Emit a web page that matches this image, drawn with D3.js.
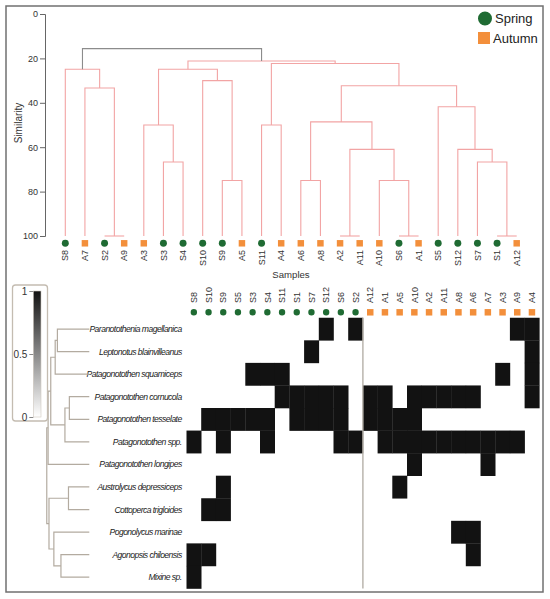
<!DOCTYPE html>
<html>
<head>
<meta charset="utf-8">
<script src="https://cdn.jsdelivr.net/npm/d3@7"></script>
<style>
body{margin:0;background:#fff;}
svg{display:block;font-family:"Liberation Sans",Arial,Helvetica,sans-serif;}
</style>
</head>
<body>
<svg id="chart" width="550" height="599"></svg>
<script>
// ---- data ----
// sample dendrogram (top): leaf order and merges [left, right, similarity]
var sampleOrder = ["S8","A7","S2","A9","A3","S3","S4","S10","S9","A5","S11","A4",
	"A6","A8","A2","A11","A10","S6","A1","S5","S12","S7","S1","A12"];
var sampleMerges = [
	["S2","A9",100],	// m0
	["A7","m0",33.3],	// m1
	["S8","m1",24.9],	// m2
	["S3","S4",66.7],	// m3
	["A3","m3",50],		// m4
	["S9","A5",75],		// m5
	["S10","m5",30],	// m6
	["m4","m6",24.9],	// m7
	["S11","A4",50],	// m8
	["A6","A8",75],		// m9
	["A2","A11",100],	// m10
	["S6","A1",100],	// m11
	["A10","m11",75],	// m12
	["m10","m12",61],	// m13
	["m9","m13",48.6],	// m14
	["S1","A12",100],	// m15
	["S7","m15",66.7],	// m16
	["S12","m16",61],	// m17
	["S5","m17",41.8],	// m18
	["m14","m18",32.3],	// m19
	["m8","m19",22.3],	// m20
	["m7","m20",21.2],	// m21
	["m2","m21",15.6]	// m22 (root)
];
var simTicks = [0,20,40,60,80,100];
var seasons = ["Spring","Autumn"];

// heatmap columns and species rows
var heatCols = ["S8","S10","S9","S5","S3","S4","S11","S1","S7","S12","S6","S2",
	"A12","A1","A5","A10","A2","A11","A8","A6","A7","A3","A9","A4"];
var species = ["Paranotothenia magellanica","Leptonotus blainvilleanus","Patagonotothen squamiceps",
	"Patagonotothen cornucola","Patagonotothen tesselate","Patagonotothen spp.","Patagonotothen longipes",
	"Austrolycus depressiceps","Cottoperca trigloides","Pogonolycus marinae","Agonopsis chiloensis","Mixine sp."];
var presence = [
	[0,0,0,0,0,0,0,0,0,1,0,1, 0,0,0,0,0,0,0,0,0,0,1,1],
	[0,0,0,0,0,0,0,0,1,0,0,0, 0,0,0,0,0,0,0,0,0,0,0,1],
	[0,0,0,0,1,1,1,0,0,0,0,0, 0,0,0,0,0,0,0,0,0,1,0,1],
	[0,0,0,0,0,0,1,1,1,1,1,0, 1,1,0,1,1,1,1,1,0,0,0,1],
	[0,1,1,1,1,1,0,1,1,1,1,0, 1,1,1,1,0,0,0,0,0,0,0,0],
	[1,0,1,0,0,1,0,0,0,0,1,1, 0,1,1,1,1,1,1,1,1,1,1,0],
	[0,0,0,0,0,0,0,0,0,0,0,0, 0,0,0,1,0,0,0,0,1,0,0,0],
	[0,0,1,0,0,0,0,0,0,0,0,0, 0,0,1,0,0,0,0,0,0,0,0,0],
	[0,1,1,0,0,0,0,0,0,0,0,0, 0,0,0,0,0,0,0,0,0,0,0,0],
	[0,0,0,0,0,0,0,0,0,0,0,0, 0,0,0,0,0,0,1,1,0,0,0,0],
	[1,1,0,0,0,0,0,0,0,0,0,0, 0,0,0,0,0,0,0,1,0,0,0,0],
	[1,0,0,0,0,0,0,0,0,0,0,0, 0,0,0,0,0,0,0,0,0,0,0,0]
];
// species dendrogram (left): merges [left, right, height]
var speciesMerges = [
	["Paranotothenia magellanica","Leptonotus blainvilleanus",0.72],	// m0
	["m0","Patagonotothen squamiceps",0.77],	// m1
	["Patagonotothen cornucola","Patagonotothen tesselate",0.45],	// m2
	["m2","Patagonotothen spp.",0.55],	// m3
	["m1","m3",0.87],	// m4
	["m4","Patagonotothen longipes",0.93],	// m5
	["Austrolycus depressiceps","Cottoperca trigloides",0.47],	// m6
	["Agonopsis chiloensis","Mixine sp.",0.64],	// m7
	["Pogonolycus marinae","m7",0.80],	// m8
	["m6","m8",0.91],	// m9
	["m5","m9",0.96]	// m10 (root)
];
var legendTicks = [0,0.5,1];

// ---- setup ----
var svg = d3.select("#chart");
var green = "#1f6b33", orange = "#f38f3b";
var pink = "#f2a4a4", treeGray = "#b3aba0";

function seasonOf(s){ return s.charAt(0)=="S" ? "Spring" : "Autumn"; }
var markerShape = d3.scaleOrdinal().domain(seasons).range([d3.symbolCircle, d3.symbolSquare]);
var markerColor = d3.scaleOrdinal().domain(seasons).range([green, orange]);

// frame
svg.append("rect").attr("x",6).attr("y",6).attr("width",537).attr("height",586)
	.attr("fill","none").attr("stroke","#707070").attr("stroke-width",1.5);

// ---- top dendrogram ----
var x = d3.scalePoint().domain(sampleOrder).range([65.3,516.7]);
var y = d3.scaleLinear().domain([0,100]).range([14,236]);

// node positions
var nodes = {};
sampleOrder.forEach(function(s){ nodes[s] = {x:x(s), h:100}; });
sampleMerges.forEach(function(m,i){
	var a = nodes[m[0]], b = nodes[m[1]];
	nodes["m"+i] = {x:(a.x+b.x)/2, h:m[2], a:a, b:b, root:i==sampleMerges.length-1};
});

var topG = svg.append("g");
sampleMerges.forEach(function(m,i){
	var n = nodes["m"+i];
	var path = d3.path();
	path.moveTo(n.a.x, y(n.a.h)); path.lineTo(n.a.x, y(n.h));
	path.lineTo(n.b.x, y(n.h)); path.lineTo(n.b.x, y(n.b.h));
	topG.append("path").attr("d",path.toString()).attr("fill","none")
		.attr("stroke", n.root ? "#8c8c8c" : pink).attr("stroke-width",1.1);
});

// y axis
var yAxis = svg.append("g").attr("transform","translate(45,0)")
	.call(d3.axisLeft(y).tickValues(simTicks).tickSize(5).tickPadding(2));
yAxis.select(".domain").attr("stroke","#666");
yAxis.selectAll(".tick line").attr("stroke","#666");
yAxis.selectAll("text").attr("fill","#333").style("font-size","9px").style("font-family","Liberation Sans, Arial, sans-serif");

svg.append("text").attr("transform","translate(18,123) rotate(-90)")
	.attr("text-anchor","middle").attr("dy","0.35em")
	.style("font-size","10px").attr("fill","#333").text("Similarity");

// leaf markers and labels
topG.selectAll(".leafmark").data(sampleOrder).enter().append("path")
	.attr("class","leafmark")
	.attr("transform",function(d){ return "translate("+x(d)+",243.3)"; })
	.attr("d",function(d){ var t=markerShape(seasonOf(d)); return d3.symbol(t, t==d3.symbolCircle?38:42)(); })
	.attr("fill",function(d){ return markerColor(seasonOf(d)); });
topG.selectAll(".leaflab").data(sampleOrder).enter().append("text")
	.attr("class","leaflab")
	.attr("transform",function(d){ return "translate("+x(d)+",250) rotate(-90)"; })
	.attr("text-anchor","end").attr("dy","0.35em")
	.style("font-size","9px").attr("fill","#333").text(function(d){ return d; });

svg.append("text").attr("x",291).attr("y",275).attr("text-anchor","middle").attr("dy","0.35em")
	.style("font-size","9.6px").attr("fill","#333").text("Samples");

// season legend
var leg = svg.append("g");
leg.append("path").attr("transform","translate(485,18.5)").attr("d",d3.symbol(d3.symbolCircle,154)()).attr("fill",green);
leg.append("path").attr("transform","translate(484,38)").attr("d",d3.symbol(d3.symbolSquare,144)()).attr("fill",orange);
leg.append("text").attr("x",495).attr("y",18.5).attr("dy","0.35em").style("font-size","13px").attr("fill","#222").text("Spring");
leg.append("text").attr("x",493).attr("y",38).attr("dy","0.35em").style("font-size","13px").attr("fill","#222").text("Autumn");

// ---- heatmap ----
var hx = d3.scaleBand().domain(heatCols).range([186.5,539.3]);
var hy = d3.scaleBand().domain(species).range([317.75,588.5]);
var shade = d3.scaleLinear().domain([0,1]).range(["#ffffff","#121212"]);

var cells = [];
presence.forEach(function(row,i){
	row.forEach(function(v,j){ cells.push({sp:species[i], s:heatCols[j], v:v}); });
});
svg.append("g").selectAll("rect").data(cells.filter(function(c){ return c.v>0; })).enter()
	.append("rect")
	.attr("x",function(d){ return hx(d.s); })
	.attr("y",function(d){ return hy(d.sp); })
	.attr("width",hx.bandwidth()+0.3)
	.attr("height",hy.bandwidth()+0.3)
	.attr("fill",function(d){ return shade(d.v); });

// spring / autumn separator
svg.append("line").attr("x1",hx("A12")).attr("x2",hx("A12"))
	.attr("y1",hy.range()[0]).attr("y2",hy.range()[1])
	.attr("stroke","#b5b0a8").attr("stroke-width",1.4);

// column markers and labels
var hc = hx.bandwidth()/2;
svg.append("g").selectAll("path").data(heatCols).enter().append("path")
	.attr("transform",function(d){ return "translate("+(hx(d)+hc)+",312.3)"; })
	.attr("d",function(d){ var t=markerShape(seasonOf(d)); return d3.symbol(t, t==d3.symbolCircle?32:42)(); })
	.attr("fill",function(d){ return markerColor(seasonOf(d)); });
svg.append("g").selectAll("text").data(heatCols).enter().append("text")
	.attr("transform",function(d){ return "translate("+(hx(d)+hc)+",303) rotate(-90)"; })
	.attr("text-anchor","start").attr("dy","0.35em")
	.style("font-size","9px").attr("fill","#333").text(function(d){ return d; });

// species labels (narrowed with letter-spacing to mimic the condensed face)
var hr = hy.bandwidth()/2;
svg.append("g").selectAll("text").data(species).enter().append("text")
	.attr("x",181.7)
	.attr("y",function(d){ return Math.round(hy(d)+hr); })
	.attr("text-anchor","end").attr("dy","0.35em")
	.style("font-size","8.6px").style("font-style","italic").style("letter-spacing","-0.55px")
	.attr("fill","#222")
	.text(function(d){ return d; });

// species dendrogram
var sx = d3.scaleLinear().domain([0,1]).range([89.3,45]);
var snodes = {};
species.forEach(function(s){ snodes[s] = {y:hy(s)+hr, h:0}; });
speciesMerges.forEach(function(m,i){
	var a = snodes[m[0]], b = snodes[m[1]];
	snodes["m"+i] = {y:(a.y+b.y)/2, h:m[2], a:a, b:b};
});
var stree = svg.append("g");
speciesMerges.forEach(function(m,i){
	var n = snodes["m"+i];
	var path = d3.path();
	path.moveTo(sx(n.a.h), n.a.y); path.lineTo(sx(n.h), n.a.y);
	path.lineTo(sx(n.h), n.b.y); path.lineTo(sx(n.b.h), n.b.y);
	stree.append("path").attr("d",path.toString()).attr("fill","none")
		.attr("stroke",treeGray).attr("stroke-width",1.2);
});

// ---- gradient legend ----
var defs = svg.append("defs");
var grad = defs.append("linearGradient").attr("id","pres").attr("x1",0).attr("x2",0).attr("y1",1).attr("y2",0);
legendTicks.forEach(function(t){
	grad.append("stop").attr("offset",t).attr("stop-color",shade(t));
});
svg.append("rect").attr("x",12.5).attr("y",285).attr("width",35).attr("height",136).attr("rx",3)
	.attr("fill","#fff").attr("stroke","#c4bcb1").attr("stroke-width",1.3);
var ly = d3.scaleLinear().domain([0,1]).range([417,291]);
svg.append("rect").attr("x",33.3).attr("y",ly(1)).attr("width",7.7).attr("height",ly(0)-ly(1))
	.attr("fill","url(#pres)").attr("stroke","#cfc9c0").attr("stroke-width",0.6);
var lAxis = svg.append("g").attr("transform","translate(33.3,0)")
	.call(d3.axisLeft(ly).tickValues(legendTicks).tickFormat(d3.format("")).tickSize(4).tickPadding(2));
lAxis.select(".domain").remove();
lAxis.selectAll(".tick line").attr("stroke","#888");
lAxis.selectAll("text").attr("fill","#333").style("font-size","10px").style("font-family","Liberation Sans, Arial, sans-serif");
</script>
</body>
</html>
